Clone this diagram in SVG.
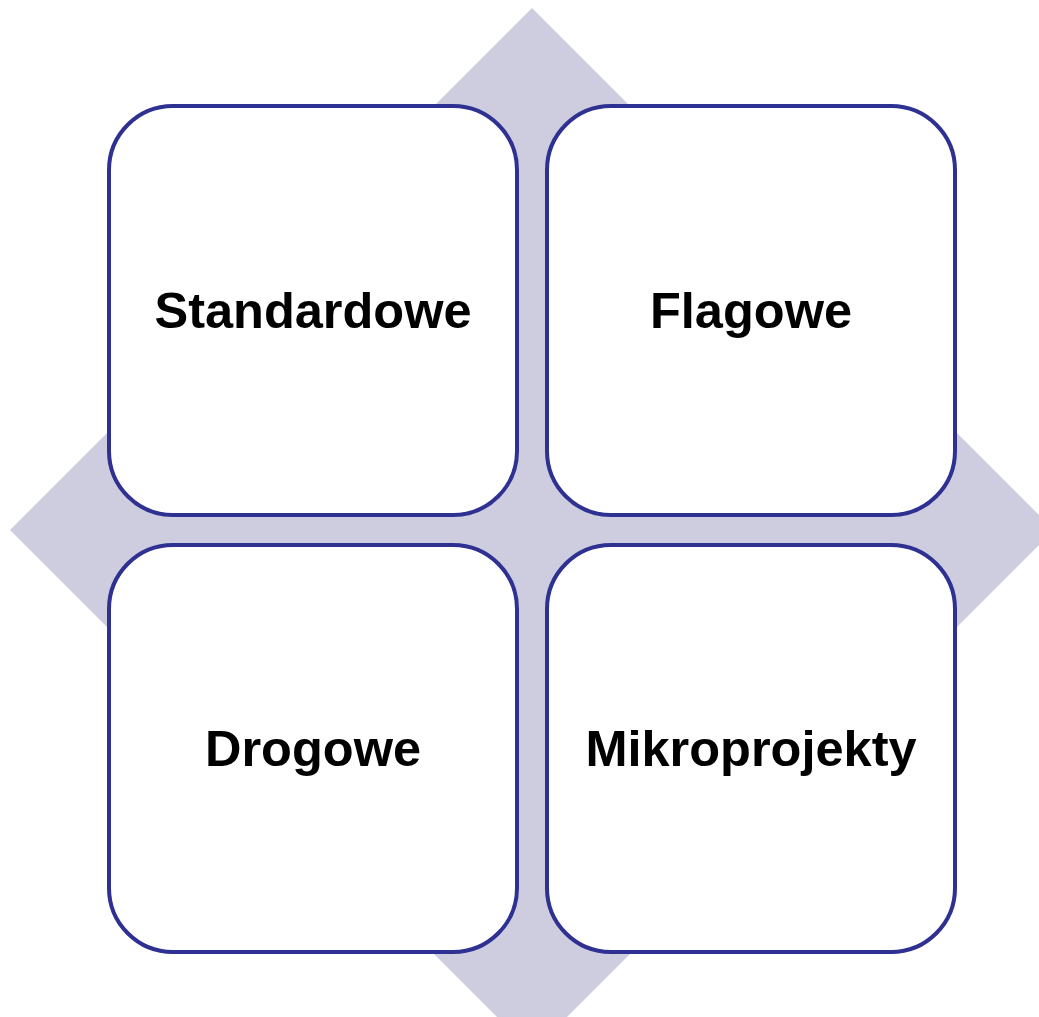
<svg xmlns="http://www.w3.org/2000/svg" width="1039" height="1017" viewBox="0 0 1039 1017">
<style>
.box{fill:#ffffff;stroke:#2e3192;stroke-width:4}
.lbl{font-family:"Liberation Sans",Arial,sans-serif;font-weight:bold;font-size:50.5px;fill:#000000;text-anchor:middle}
</style>
<rect width="1039" height="1017" fill="#ffffff"/>
<g id="background">
<polygon points="532,8 1054,530 532,1052 10,530" fill="#cdcddf"/>
</g>
<g id="connectors"></g>
<g id="node-standardowe">
<rect class="box" x="109" y="106" width="408" height="409" rx="64" ry="64"/>
<text class="lbl" x="313" y="328">Standardowe</text>
</g>
<g id="node-flagowe">
<rect class="box" x="547" y="106" width="408" height="409" rx="64" ry="64"/>
<text class="lbl" x="751" y="328">Flagowe</text>
</g>
<g id="node-drogowe">
<rect class="box" x="109" y="545" width="408" height="407" rx="64" ry="64"/>
<text class="lbl" x="313" y="766">Drogowe</text>
</g>
<g id="node-mikroprojekty">
<rect class="box" x="547" y="545" width="408" height="407" rx="64" ry="64"/>
<text class="lbl" x="751" y="766">Mikroprojekty</text>
</g>
</svg>
